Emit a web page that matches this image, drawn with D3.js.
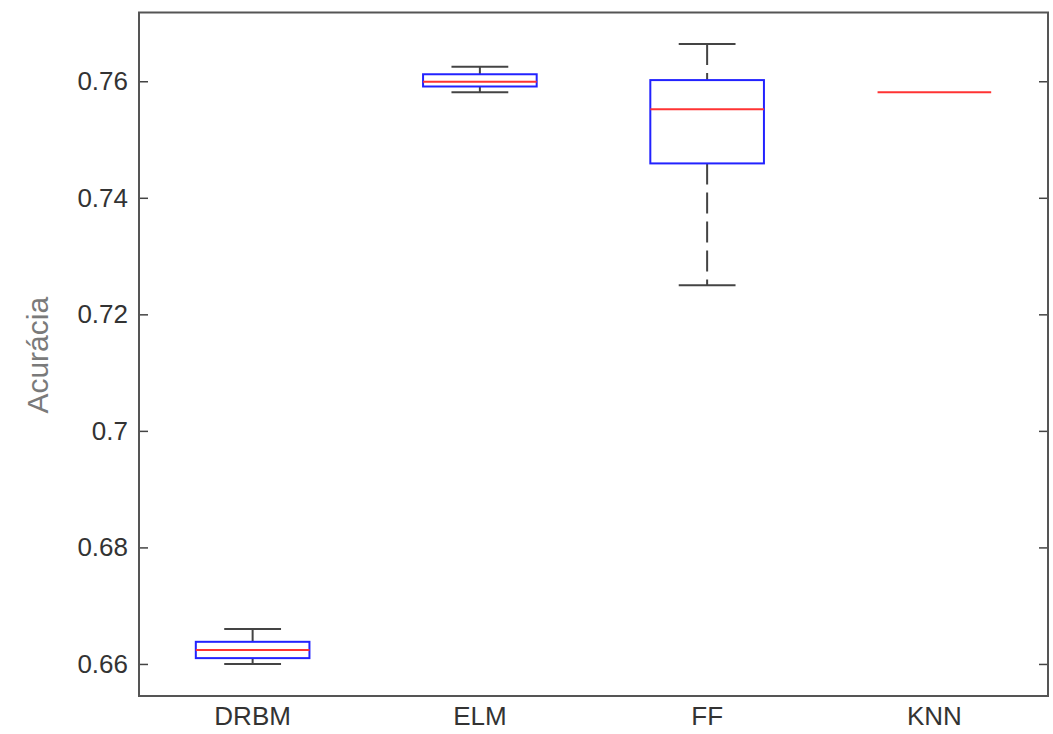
<!DOCTYPE html>
<html>
<head>
<meta charset="utf-8">
<script src="https://cdn.jsdelivr.net/npm/d3@7"></script>
<style>
  body { margin: 0; background: #fff; }
  text { font-family: "Liberation Sans", Arial, sans-serif; }
</style>
</head>
<body>
<svg id="chart" width="1053" height="734"></svg>
<script>
// categorias e estatísticas
const categories = ['DRBM', 'ELM', 'FF', 'KNN']
const whiskerLow = [0.6600, 0.7581, 0.7250, 0.7581]
const q1 = [0.6610, 0.7591, 0.7459, 0.7581]
const medians = [0.6624, 0.7599, 0.7552, 0.7581]
const q3 = [0.6638, 0.7612, 0.7602, 0.7581]
const whiskerHigh = [0.6660, 0.7625, 0.7664, 0.7581]
const yTicks = [0.66, 0.68, 0.7, 0.72, 0.74, 0.76]

const margin = { top: 12.5, right: 5, bottom: 38, left: 139 }
const width = 1053
const height = 734

const svg = d3.select('#chart')

const x = d3.scaleBand()
  .domain(categories)
  .range([margin.left, width - margin.right])

const y = d3.scaleLinear()
  .domain([0.6545, 0.7718])
  .range([height - margin.bottom, margin.top])

const data = categories.map((c, i) => ({
  name: c,
  lo: whiskerLow[i],
  q1: q1[i],
  med: medians[i],
  q3: q3[i],
  hi: whiskerHigh[i]
}))

// eixos: ticks para dentro dos dois lados
const left = svg.append('g')
  .attr('transform', `translate(${margin.left},0)`)
  .call(d3.axisLeft(y).tickValues(yTicks).tickFormat(d => String(d))
    .tickSizeInner(-9).tickSizeOuter(0).tickPadding(11))
left.select('.domain').remove()
left.selectAll('line').attr('stroke', '#444').attr('stroke-width', 1.5)
left.selectAll('text')
  .style('font-size', '26px')
  .style('fill', '#333')

const right = svg.append('g')
  .attr('transform', `translate(${width - margin.right},0)`)
  .call(d3.axisRight(y).tickValues(yTicks).tickSizeInner(-9).tickSizeOuter(0).tickFormat(''))
right.select('.domain').remove()
right.selectAll('line').attr('stroke', '#444').attr('stroke-width', 1.5)

const bottom = svg.append('g')
  .attr('transform', `translate(0,${height - margin.bottom})`)
  .call(d3.axisBottom(x).tickSize(0).tickPadding(11))
bottom.select('.domain').remove()
bottom.selectAll('text')
  .style('font-size', '26px')
  .style('fill', '#333')

// moldura
svg.append('rect')
  .attr('x', margin.left)
  .attr('y', margin.top)
  .attr('width', width - margin.left - margin.right)
  .attr('height', height - margin.top - margin.bottom)
  .attr('fill', 'none')
  .attr('stroke', '#555')
  .attr('stroke-width', 2)

svg.append('text')
  .attr('transform', `translate(48,${(margin.top + height - margin.bottom) / 2 + 1}) rotate(-90)`)
  .attr('text-anchor', 'middle')
  .style('font-size', '30px')
  .style('fill', '#7a7a7a')
  .text('Acurácia')

const bw = x.bandwidth()
const boxW = bw / 2
const capW = bw / 4

const g = svg.selectAll('.box')
  .data(data)
  .enter().append('g')
  .attr('class', 'box')
  .attr('transform', d => `translate(${x(d.name) + bw / 2},0)`)

const withSpread = g.filter(d => d.hi !== d.lo)

// bigodes tracejados
withSpread.append('line')
  .attr('x1', 0).attr('x2', 0)
  .attr('y1', d => y(d.hi)).attr('y2', d => y(d.q3))
  .attr('stroke', '#444').attr('stroke-width', 2)
  .attr('stroke-dasharray', '21,8')
withSpread.append('line')
  .attr('x1', 0).attr('x2', 0)
  .attr('y1', d => y(d.q1)).attr('y2', d => y(d.lo))
  .attr('stroke', '#444').attr('stroke-width', 2)
  .attr('stroke-dasharray', '21,8')

withSpread.selectAll('.cap')
  .data(d => [d.hi, d.lo])
  .enter().append('line')
  .attr('class', 'cap')
  .attr('x1', -capW / 2).attr('x2', capW / 2)
  .attr('y1', v => y(v)).attr('y2', v => y(v))
  .attr('stroke', '#444').attr('stroke-width', 2)

withSpread.append('rect')
  .attr('x', -boxW / 2)
  .attr('y', d => y(d.q3))
  .attr('width', boxW)
  .attr('height', d => y(d.q1) - y(d.q3))
  .attr('fill', 'none')
  .attr('stroke', '#2222ff')
  .attr('stroke-width', 2)

g.append('line')
  .attr('x1', -boxW / 2).attr('x2', boxW / 2)
  .attr('y1', d => y(d.med)).attr('y2', d => y(d.med))
  .attr('stroke', '#ff3333').attr('stroke-width', 2)
</script>
</body>
</html>
